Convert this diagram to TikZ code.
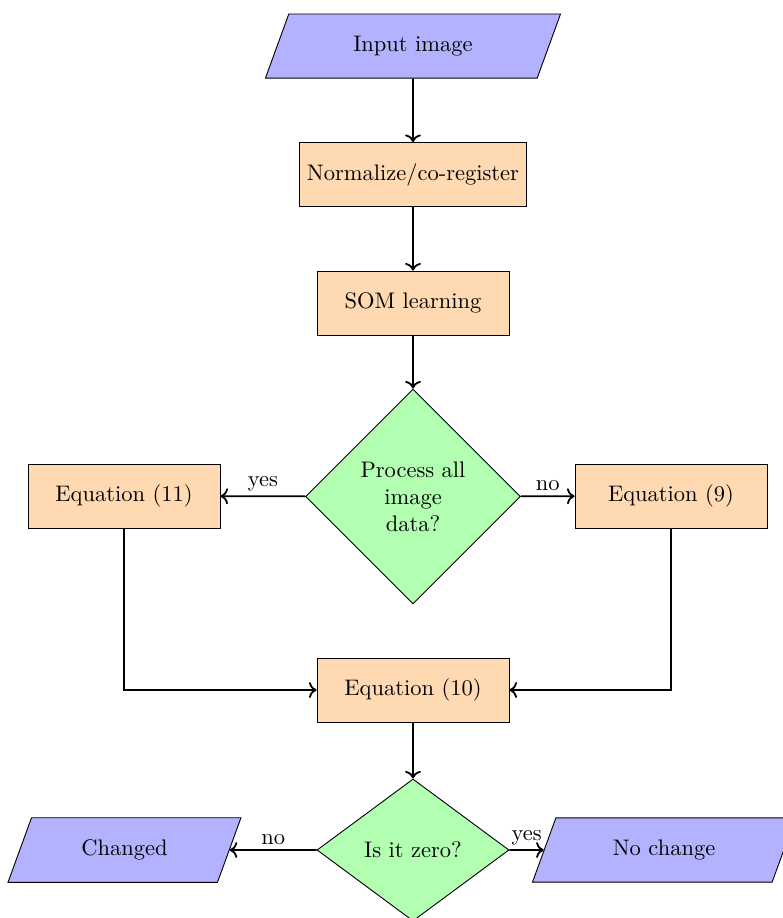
\documentclass[tikz,border=0pt]{standalone}
\usetikzlibrary{shapes.geometric,arrows.meta}
\begin{document}
\begin{tikzpicture}[x=0.015625cm,y=-0.015625cm,
  io/.style={trapezium, trapezium left angle=70, trapezium right angle=110,
    trapezium stretches body, draw, fill=blue!30, minimum height=1cm, inner xsep=0pt, inner ysep=9.8pt},
  process/.style={rectangle, draw, fill=orange!30, minimum width=3cm, minimum height=1cm},
  decision/.style={diamond, draw, fill=green!30, align=center, inner sep=0pt},
  conn/.style={thick, ->},
  lbl/.style={above, midway, inner sep=2pt}]
\useasboundingbox (0,0) rectangle (783,918);
\node[io, minimum width=4.61cm] (in) at (413,46) {Input image};
\node[process] (norm) at (413,174.5) {Normalize/co-register};
\node[process] (som) at (413,303) {SOM learning};
\node[decision, minimum width=3.36cm, minimum height=3.36cm] (d1) at (413,496.5) {Process all\\ image\\ data?};
\node[process] (eq11) at (124,496) {Equation (11)};
\node[process] (eq9) at (671,496) {Equation (9)};
\node[process] (eq10) at (413,690) {Equation (10)};
\node[decision, minimum width=3cm, minimum height=2.22cm] (d2) at (413,850) {Is it zero?};
\node[io, minimum width=3.64cm] (chg) at (124.5,850) {Changed};
\node[io, minimum width=4.11cm] (noc) at (664,850) {No change};
\draw[conn] (in) -- (norm);
\draw[conn] (norm) -- (som);
\draw[conn] (som) -- (d1);
\draw[conn] (d1) -- node[lbl] {yes} (eq11);
\draw[conn] (d1) -- node[lbl] {no} (eq9);
\draw[conn] (eq11) |- (eq10);
\draw[conn] (eq9) |- (eq10);
\draw[conn] (eq10) -- (d2);
\draw[conn] (d2) -- node[lbl] {no} (chg);
\draw[conn] (d2) -- node[lbl] {yes} (noc);
\end{tikzpicture}
\end{document}
